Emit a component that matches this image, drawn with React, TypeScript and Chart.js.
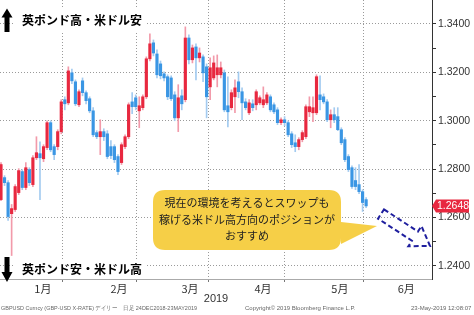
import { useEffect, useRef } from 'react';
import { Chart, registerables } from 'chart.js';

Chart.register(...registerables);

// ---- data (GBPUSD daily candles) ----
const opens = [
  1.2674, 1.2765, 1.2744, 1.2616, 1.2633, 1.2703, 1.2790, 1.2724, 1.2798, 1.2736,
  1.2847, 1.2864, 1.2843, 1.2889, 1.2992, 1.2893, 1.2893, 1.2955, 1.3087, 1.3074,
  1.3198, 1.3161, 1.3066, 1.3165, 1.3116, 1.3091, 1.3041, 1.2951, 1.2934, 1.2955,
  1.2946, 1.2893, 1.2893, 1.2852, 1.2827, 1.2893, 1.2934, 1.3078, 1.3095, 1.3041,
  1.3054, 1.3099, 1.3256, 1.3322, 1.3276, 1.3235, 1.3194, 1.3182, 1.3177, 1.3107,
  1.3012, 1.3103, 1.3087, 1.3342, 1.3252, 1.3305, 1.3260, 1.3264, 1.3223, 1.3140,
  1.3177, 1.3190, 1.3190, 1.3198, 1.3062, 1.3054, 1.3099, 1.3161, 1.3120, 1.3078,
  1.3033, 1.3070, 1.3066, 1.3074, 1.3066, 1.3074, 1.3099, 1.3066, 1.3045, 1.2992,
  1.3004, 1.2992, 1.2946, 1.2909, 1.2893, 1.2922, 1.2934, 1.3037, 1.3033, 1.3033,
  1.3107, 1.3099, 1.3078, 1.3004, 1.3025, 1.3017, 1.2963, 1.2922, 1.2852, 1.2806,
  1.2753, 1.2736, 1.2707, 1.2674,
];
const highs = [
  1.2827, 1.2773, 1.2753, 1.2654, 1.2736, 1.2802, 1.2798, 1.2827, 1.2806, 1.2856,
  1.2934, 1.2913, 1.2901, 1.3000, 1.3000, 1.2901, 1.2963, 1.3087, 1.3099, 1.3223,
  1.3214, 1.3169, 1.3128, 1.3177, 1.3124, 1.3099, 1.3054, 1.2959, 1.3004, 1.2967,
  1.2959, 1.2918, 1.2901, 1.2860, 1.2909, 1.2942, 1.3074, 1.3116, 1.3107, 1.3099,
  1.3107, 1.3264, 1.3359, 1.3334, 1.3293, 1.3247, 1.3202, 1.3190, 1.3186, 1.3120,
  1.3149, 1.3128, 1.3388, 1.3355, 1.3313, 1.3318, 1.3301, 1.3272, 1.3235, 1.3260,
  1.3268, 1.3272, 1.3243, 1.3210, 1.3182, 1.3128, 1.3169, 1.3202, 1.3136, 1.3091,
  1.3087, 1.3087, 1.3128, 1.3103, 1.3140, 1.3116, 1.3107, 1.3074, 1.3054, 1.3012,
  1.3017, 1.3000, 1.2955, 1.2942, 1.2930, 1.2959, 1.3066, 1.3099, 1.3099, 1.3190,
  1.3186, 1.3111, 1.3087, 1.3045, 1.3054, 1.3054, 1.2971, 1.2930, 1.2860, 1.2814,
  1.2806, 1.2819, 1.2715, 1.2682,
];
const lows = [
  1.2670, 1.2732, 1.2588, 1.2443, 1.2625, 1.2695, 1.2715, 1.2715, 1.2732, 1.2728,
  1.2839, 1.2674, 1.2831, 1.2880, 1.2872, 1.2839, 1.2880, 1.2946, 1.3045, 1.3066,
  1.3153, 1.3062, 1.3058, 1.3103, 1.3070, 1.3033, 1.2934, 1.2926, 1.2860, 1.2918,
  1.2843, 1.2843, 1.2827, 1.2777, 1.2819, 1.2885, 1.2926, 1.3029, 1.3045, 1.2971,
  1.3045, 1.3091, 1.3247, 1.3268, 1.3177, 1.3173, 1.3165, 1.3087, 1.3083, 1.3000,
  1.2955, 1.3045, 1.3078, 1.3235, 1.3239, 1.3169, 1.3243, 1.3161, 1.3012, 1.3087,
  1.3169, 1.3140, 1.3177, 1.3037, 1.2975, 1.3045, 1.3033, 1.3095, 1.3004, 1.3045,
  1.3025, 1.3041, 1.3045, 1.3066, 1.3054, 1.3066, 1.3037, 1.3029, 1.2984, 1.2984,
  1.2979, 1.2934, 1.2889, 1.2872, 1.2880, 1.2913, 1.2926, 1.3017, 1.2996, 1.3025,
  1.3045, 1.3070, 1.2996, 1.2971, 1.2992, 1.2959, 1.2901, 1.2831, 1.2790, 1.2720,
  1.2715, 1.2699, 1.2625, 1.2641,
];
const closes = [
  1.2819, 1.2744, 1.2604, 1.2637, 1.2728, 1.2794, 1.2724, 1.2806, 1.2744, 1.2847,
  1.2868, 1.2847, 1.2893, 1.2992, 1.2880, 1.2860, 1.2955, 1.3078, 1.3070, 1.3206,
  1.3165, 1.3070, 1.3120, 1.3116, 1.3083, 1.3041, 1.2942, 1.2934, 1.2955, 1.2934,
  1.2852, 1.2856, 1.2839, 1.2790, 1.2901, 1.2934, 1.3066, 1.3058, 1.3058, 1.3062,
  1.3099, 1.3256, 1.3318, 1.3280, 1.3190, 1.3186, 1.3177, 1.3099, 1.3091, 1.3012,
  1.3095, 1.3070, 1.3342, 1.3252, 1.3301, 1.3260, 1.3280, 1.3198, 1.3099, 1.3219,
  1.3239, 1.3219, 1.3219, 1.3045, 1.3037, 1.3116, 1.3136, 1.3120, 1.3074, 1.3054,
  1.3074, 1.3054, 1.3120, 1.3095, 1.3087, 1.3107, 1.3045, 1.3037, 1.2992, 1.3004,
  1.2992, 1.2942, 1.2901, 1.2893, 1.2922, 1.2951, 1.3058, 1.3058, 1.3054, 1.3182,
  1.3087, 1.3078, 1.3004, 1.3025, 1.3004, 1.2963, 1.2909, 1.2839, 1.2798, 1.2728,
  1.2728, 1.2707, 1.2662, 1.2648,
];

// x axis: trading-day index (0 = 1 Jan 2019)
const monthLabels = ['1月', '2月', '3月', '4月', '5月', '6月'];
const monthStartIdx = [0, 23, 43, 64, 86, 109];
const monthLabelIdx = [11.8, 33.3, 53.3, 73.9, 95.6, 114.3];
const yearLabel = '2019';

// y axis
const yTickValues = [1.24, 1.25, 1.26, 1.27, 1.28, 1.29, 1.3, 1.31, 1.32, 1.33, 1.34];
const lastPrice = closes[closes.length - 1];

// annotations
const topLabel = '英ポンド高・米ドル安';
const bottomLabel = '英ポンド安・米ドル高';
const calloutLines = ['現在の環境を考えるとスワップも', '稼げる米ドル高方向のポジションが', 'おすすめ'];
const footerLeft = 'GBPUSD Curncy (GBP-USD X-RATE) デイリー    日足 24DEC2018-23MAY2019';
const footerMid = 'Copyright© 2019 Bloomberg Finance L.P.';
const footerRight = '23-May-2019 12:08:07';

const RED = '#E8283F';
const BLUE = '#3A96E4';
const RED_W = '#F29AAA';
const BLUE_W = '#A3CBF0';
const CJK = '"Noto Sans CJK JP", "Noto Sans", sans-serif';
const LAT = '"Liberation Sans", Arial, sans-serif';

const overlay = {
  id: 'overlay',
  afterDraw(chart: any) {
    const ctx: CanvasRenderingContext2D = chart.ctx;
    const area = chart.chartArea;
    const ys = chart.scales.y;
    ctx.save();

    // --- top label ---
    ctx.fillStyle = '#fff';
    ctx.fillRect(14, 9, 132, 22);
    ctx.fillStyle = '#000';
    ctx.beginPath();
    ctx.moveTo(7, 8.5); ctx.lineTo(12.5, 17.5); ctx.lineTo(9.5, 17.5); ctx.lineTo(9.5, 32);
    ctx.lineTo(4.5, 32); ctx.lineTo(4.5, 17.5); ctx.lineTo(1.5, 17.5); ctx.closePath();
    ctx.fill();
    ctx.font = `bold 12px ${CJK}`;
    ctx.textBaseline = 'middle';
    ctx.textAlign = 'left';
    ctx.fillText(topLabel, 22, 20.5);

    // --- bottom label ---
    ctx.fillStyle = '#fff';
    ctx.fillRect(14, 259, 132, 19);
    ctx.fillStyle = '#000';
    ctx.beginPath();
    ctx.moveTo(4.5, 257); ctx.lineTo(9.5, 257); ctx.lineTo(9.5, 272); ctx.lineTo(12.5, 272);
    ctx.lineTo(7, 282); ctx.lineTo(1.5, 272); ctx.lineTo(4.5, 272); ctx.closePath();
    ctx.fill();
    ctx.fillText(bottomLabel, 22, 269.5);

    // --- callout ---
    ctx.fillStyle = '#F6CF47';
    ctx.beginPath();
    const bx = 153, by = 190, bw = 188, bh = 60, r = 12;
    ctx.moveTo(bx + r, by);
    ctx.lineTo(bx + bw - r, by);
    ctx.quadraticCurveTo(bx + bw, by, bx + bw, by + r);
    ctx.lineTo(bx + bw, by + 32);
    ctx.lineTo(377, 226);
    ctx.lineTo(bx + bw, by + 54);
    ctx.lineTo(bx + bw, by + bh - r);
    ctx.quadraticCurveTo(bx + bw, by + bh, bx + bw - r, by + bh);
    ctx.lineTo(bx + r, by + bh);
    ctx.quadraticCurveTo(bx, by + bh, bx, by + bh - r);
    ctx.lineTo(bx, by + r);
    ctx.quadraticCurveTo(bx, by, bx + r, by);
    ctx.closePath();
    ctx.fill();
    ctx.fillStyle = '#222';
    ctx.font = `11px ${CJK}`;
    ctx.textAlign = 'center';
    const lineY = [203, 219.5, 236];
    calloutLines.forEach((t, i) => ctx.fillText(t, 247, lineY[i]));

    // --- dashed arrow ---
    const T = { x: 381, y: 214 };
    const P = { x: 430, y: 246 };
    const dx = P.x - T.x, dy = P.y - T.y;
    const L = Math.hypot(dx, dy);
    const u = { x: dx / L, y: dy / L };
    const n = { x: -u.y, y: u.x };
    const sw = 5.5, hw = 12, hl = 18;
    const pt = (a: number, b: number) => [T.x + u.x * a + n.x * b, T.y + u.y * a + n.y * b];
    const poly = [pt(0, -sw), pt(L - hl, -sw), pt(L - hl, -hw), pt(L, 0), pt(L - hl, hw), pt(L - hl, sw), pt(0, sw)];
    ctx.strokeStyle = '#1F1F9E';
    ctx.lineWidth = 2;
    ctx.setLineDash([5, 3]);
    ctx.beginPath();
    poly.forEach(([x, y], i) => (i ? ctx.lineTo(x, y) : ctx.moveTo(x, y)));
    ctx.closePath();
    ctx.stroke();
    ctx.setLineDash([]);

    // --- last price tag ---
    const py = ys.getPixelForValue(lastPrice);
    const tx = area.right;
    ctx.fillStyle = RED;
    ctx.beginPath();
    ctx.moveTo(tx, py);
    ctx.lineTo(tx + 4, py - 6.5);
    ctx.lineTo(tx + 37, py - 6.5);
    ctx.lineTo(tx + 37, py + 6.5);
    ctx.lineTo(tx + 4, py + 6.5);
    ctx.closePath();
    ctx.fill();
    ctx.fillStyle = '#fff';
    ctx.font = `10.5px ${LAT}`;
    ctx.textAlign = 'center';
    ctx.fillText(lastPrice.toFixed(4), tx + 21, py + 0.5);

    // --- year + footer ---
    ctx.fillStyle = '#333';
    ctx.font = `11px ${LAT}`;
    ctx.fillText(yearLabel, (area.left + area.right) / 2, 298.5);
    ctx.fillStyle = '#666';
    ctx.font = `6px ${LAT}`;
    ctx.textAlign = 'left';
    ctx.fillText(footerLeft, 1, 308, 196);
    ctx.fillText(footerMid, 245, 308, 118);
    ctx.fillText(footerRight, 411, 308, 62);
    ctx.restore();
  },
};

export default function App() {
  const ref = useRef<HTMLCanvasElement>(null);
  useEffect(() => {
    const canvas = ref.current!;
    const idx = opens.map((_, i) => i);
    const up = (i: number) => closes[i] >= opens[i];
    const isStart = (v: any) => monthStartIdx.includes(v);
    const isMajor = (v: number) => Math.round(v * 100) % 2 === 0;
    const clear = 'rgba(0,0,0,0)';
    const chart = new Chart(canvas, {
      type: 'bar',
      data: {
        datasets: [
          {
            label: 'wick',
            data: idx.map((i) => ({ x: i, y: [lows[i], highs[i]] })) as any,
            backgroundColor: idx.map((i) => (up(i) ? RED_W : BLUE_W)),
            grouped: false,
            barThickness: 1,
            maxBarThickness: 1,
            borderWidth: 0,
            order: 2,
          } as any,
          {
            label: 'body',
            data: idx.map((i) => ({ x: i, y: [opens[i], closes[i]] })) as any,
            backgroundColor: idx.map((i) => (up(i) ? RED : BLUE)),
            grouped: false,
            barThickness: 2.5,
            maxBarThickness: 2.5,
            minBarLength: 1,
            borderWidth: 0,
            order: 1,
          } as any,
        ],
      },
      options: {
        animation: false,
        responsive: false,
        maintainAspectRatio: false,
        layout: { padding: 0 },
        plugins: { legend: { display: false }, tooltip: { enabled: false } },
        scales: {
          x: {
            type: 'linear',
            min: -0.28,
            max: 121.58,
            offset: false,
            afterBuildTicks: (s: any) => {
              s.ticks = [...monthStartIdx, ...monthLabelIdx].sort((a, b) => a - b).map((v) => ({ value: v }));
            },
            afterFit: (s: any) => {
              s.height = 36;
              s.paddingLeft = 0;
              s.paddingRight = 0;
            },
            ticks: {
              autoSkip: false,
              maxRotation: 0,
              minRotation: 0,
              padding: 0,
              color: '#333',
              font: { size: 11, family: CJK },
              callback: (v: any) => {
                const k = monthLabelIdx.indexOf(v);
                return k >= 0 ? monthLabels[k] : '';
              },
            },
            grid: {
              color: (c: any) => (c.tick && isStart(c.tick.value) ? '#9a9a9a' : clear),
              tickColor: (c: any) => (c.tick && isStart(c.tick.value) ? '#777' : clear),
              lineWidth: 1,
              tickLength: 3,
            },
            border: { display: true, color: '#aaa', width: 1, dash: [1, 2] },
          } as any,
          y: {
            type: 'linear',
            position: 'right',
            min: 1.2346,
            max: 1.3499,
            afterBuildTicks: (s: any) => {
              s.ticks = yTickValues.map((v) => ({ value: v }));
            },
            afterFit: (s: any) => {
              s.width = 42;
              s.paddingTop = 0;
              s.paddingBottom = 0;
            },
            ticks: {
              padding: 2,
              color: '#333',
              font: { size: 10.5, family: LAT },
              callback: (v: any) => (isMajor(v) ? Number(v).toFixed(4) : ''),
            },
            grid: {
              color: (c: any) => (c.tick && isMajor(c.tick.value) ? '#9a9a9a' : clear),
              tickColor: '#333',
              lineWidth: 1,
              tickLength: 4,
            },
            border: { display: true, color: '#333', width: 1, dash: [1, 2] },
          } as any,
        },
      },
      plugins: [overlay],
    });
    return () => chart.destroy();
  }, []);

  return (
    <div style={{ position: 'fixed', left: 0, top: 0, width: 474, height: 315, background: '#fff' }}>
      <canvas ref={ref} width={474} height={315} style={{ display: 'block' }} />
    </div>
  );
}
